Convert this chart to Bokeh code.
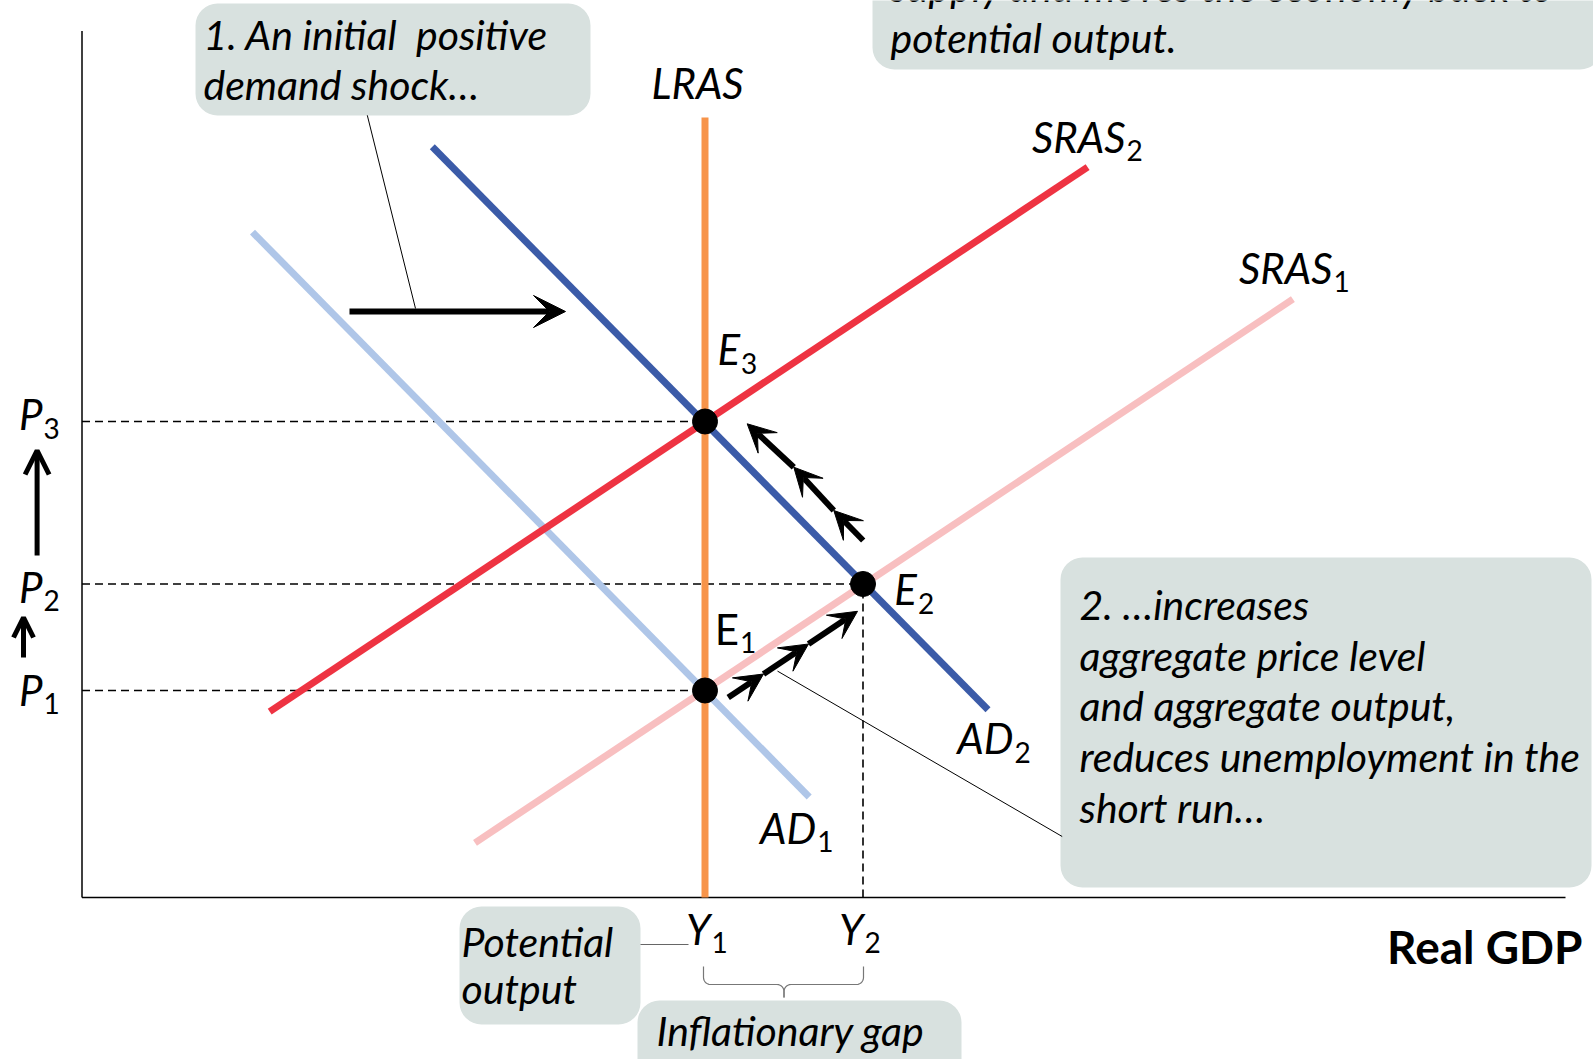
from bokeh.plotting import figure
from bokeh.models import Range1d, ColumnDataSource, Arrow, VeeHead, OpenHead
from bokeh.core.properties import value
from bokeh.embed import file_html
from bokeh.resources import INLINE
import numpy as np

# ---------------- data (chart units, origin at the axes corner) ----------------
Y1, Y2 = 623.0, 781.0            # potential output, short-run output
P1, P2, P3 = 207.0, 313.5, 476.0 # price levels

lras_x = [Y1, Y1]
lras_y = [0.0, 780.0]
ad1_x = [170.5, 727.2]
ad1_y = [665.4, 100.5]
ad2_x = [350.3, 906.0]
ad2_y = [750.7, 187.8]
sras1_x = [393.0, 1210.9]
sras1_y = [54.7, 598.3]
sras2_x = [187.7, 1005.6]
sras2_y = [185.8, 730.4]

eq_x = [Y1, Y2, Y1]
eq_y = [P1, P2, P3]

x_axis_end = 1483.5
y_axis_end = 866.5

box1_lines = ["1. An initial\u00a0 positive", "demand shock\u2026"]
box2_lines = ["2. \u2026increases", "aggregate price level", "and aggregate output,",
              "reduces unemployment in the", "short run\u2026"]
box3_lines = ["supply and moves the economy back to", "potential output."]
pot_lines = ["Potential", "output"]
gap_lines = ["Inflationary gap"]

# ---------------- styles ----------------
FONT = value("Lato")
BOX_FILL = "#D8E1DF"
C_LRAS = "#F7944A"
C_AD1 = "#AFC6E8"
C_AD2 = "#3B5BA8"
C_SRAS1 = "#F8BFC0"
C_SRAS2 = "#EE3342"
CURVE_W = 7
TXT = "41px"
LBL = "42px"
SUB = "28px"
DY = 14.0   # text baseline correction

p = figure(width=1593, height=1059, x_range=Range1d(-81.5, 1511.5), y_range=Range1d(-162, 897),
           output_backend="svg", toolbar_location=None, min_border=0,
           x_axis_location=None, y_axis_location=None)
p.grid.visible = False
p.outline_line_color = None
p.background_fill_color = "white"
p.border_fill_color = "white"

# ---------------- callout boxes ----------------
boxes = dict(left=[113.5, 790.5, 978.5, 377.5, 555.5],
             right=[508.5, 1520.0, 1509.5, 558.5, 879.5],
             bottom=[782.0, 828.0, 10.0, -127.0, -190.0],
             top=[894.0, 940.0, 340.0, -9.0, -103.0])
p.quad(source=ColumnDataSource(boxes), left="left", right="right", bottom="bottom", top="top",
       fill_color=BOX_FILL, line_color=None, border_radius=22)

def block(lines, x, y0, step):
    ys = [y0 + DY - i * step for i in range(len(lines))]
    p.text(x=[x] * len(lines), y=ys, text=lines, text_font=FONT, text_font_style="italic",
           text_font_size=TXT, text_color="black", text_baseline="alphabetic", text_align="left")

block(box1_lines, 121.5, 849.0, 49.5)
block(box2_lines, 997.5, 279.3, 50.8)
block(box3_lines, 808.5, 897.0, 51.0)
block(pot_lines, 379.5, -58.0, 47.0)
block(gap_lines, 574.5, -147.0, 50.0)

# ---------------- axes ----------------
p.segment(x0=[0, 0], y0=[0, 0], x1=[0, x_axis_end], y1=[y_axis_end, 0], line_color="black", line_width=1.5)

# ---------------- dashed guides ----------------
p.segment(x0=[0, 0, 0, Y2], y0=[P1, P2, P3, 0], x1=[Y1, Y2, Y1, Y2], y1=[P1, P2, P3, P2],
          line_color="black", line_width=1.6, line_dash="8 5")

# ---------------- curves ----------------
p.line(sras1_x, sras1_y, line_color=C_SRAS1, line_width=CURVE_W)
p.line(ad1_x, ad1_y, line_color=C_AD1, line_width=CURVE_W)
p.line(sras2_x, sras2_y, line_color=C_SRAS2, line_width=CURVE_W)
p.line(ad2_x, ad2_y, line_color=C_AD2, line_width=CURVE_W)
p.line(lras_x, lras_y, line_color=C_LRAS, line_width=CURVE_W)

# ---------------- leader lines ----------------
p.segment(x0=[285.3, 980.2], y0=[782.2, 61.0], x1=[333.5, 695.5], y1=[589.0, 226.4],
          line_color="black", line_width=1)
p.segment(x0=[558.5], y0=[-47.0], x1=[606.5], y1=[-47.0], line_color="#666666", line_width=1.2)

# brace under Y1..Y2
def brace_half(xa, xb, ytop, ymid, ytip, r, sgn):
    pts = [(xa, ytop), (xa, ymid + r)]
    th = np.linspace(np.pi, 1.5 * np.pi, 8) if sgn > 0 else np.linspace(0, -0.5 * np.pi, 8)
    cx = xa + sgn * r
    pts += [(cx + r * np.cos(t), ymid + r + r * np.sin(t)) for t in th]
    pts += [(xb - sgn * r, ymid)]
    th2 = np.linspace(0.5 * np.pi, 0, 8) if sgn > 0 else np.linspace(0.5 * np.pi, np.pi, 8)
    cx2 = xb - sgn * r
    pts += [(cx2 + r * np.cos(t), ymid - r + r * np.sin(t)) for t in th2]
    pts += [(xb, ytip)]
    return [q[0] for q in pts], [q[1] for q in pts]

xm = (Y1 + Y2) / 2
bl = brace_half(Y1 - 1.5, xm, -69.0, -87.0, -100.0, 7, 1)
br = brace_half(Y2 + 0.5, xm, -69.0, -87.0, -100.0, 7, -1)
p.multi_line(xs=[bl[0], br[0]], ys=[bl[1], br[1]], line_color="#777777", line_width=1.2)

# ---------------- equilibrium points ----------------
p.scatter(eq_x, eq_y, size=25, fill_color="black", line_color="black")

# ---------------- arrows ----------------
def arrows(xs, ys, head, w):
    src = ColumnDataSource(dict(x0=xs[:-1], y0=ys[:-1], x1=xs[1:], y1=ys[1:]))
    p.add_layout(Arrow(end=head, source=src, x_start="x0", y_start="y0", x_end="x1", y_end="y1",
                       line_width=w, line_color="black"))

arrows([267.5, 483.5], [586.0, 586.0], VeeHead(size=32, fill_color="black", line_color="black"), 6)
arrows([646.2, 681.5, 726.5, 775.5], [200.0, 223.5, 253.5, 286.2],
       VeeHead(size=28, fill_color="black", line_color="black"), 6)
arrows([781.2, 751.8, 711.8, 665.2], [357.0, 387.0, 430.3, 473.7],
       VeeHead(size=28, fill_color="black", line_color="black"), 6)
arrows([-44.9, -44.9], [342.0, 447.0], OpenHead(size=24, line_width=5, line_color="black"), 5)
arrows([-58.5, -58.5], [240.0, 280.0], OpenHead(size=20, line_width=5, line_color="black"), 5)

# ---------------- labels ----------------
# (main, subscript, x where subscript starts, baseline, italic?)
labels = [
    ("SRAS", "2", 1043.5, 746.6, True),
    ("SRAS", "1", 1250.5, 615.6, True),
    ("AD", "2", 931.5, 145.2, True),
    ("AD", "1", 734.3, 56.0, True),
    ("E", "3", 658.1, 534.3, True),
    ("E", "2", 834.9, 294.5, True),
    ("E", "1", 657.1, 255.0, False),
    ("P", "3", -39.5, 469.3, True),
    ("P", "2", -39.5, 297.0, True),
    ("P", "1", -39.5, 194.0, True),
    ("Y", "1", 628.5, -45.0, True),
    ("Y", "2", 781.5, -45.0, True),
]
for main, sub, xs, yb, it in labels:
    p.text(x=[xs], y=[yb + DY], text=[main], text_font=FONT, text_font_style="italic" if it else "normal",
           text_font_size=LBL, text_align="right", text_baseline="alphabetic", text_color="black")
    p.text(x=[xs + 1], y=[yb + DY - 14], text=[sub], text_font=FONT, text_font_size=SUB,
           text_align="left", text_baseline="alphabetic", text_color="black")

p.text(x=[615.5], y=[800.5 + DY], text=["LRAS"], text_font=FONT, text_font_style="italic",
       text_font_size=LBL, text_align="center", text_baseline="alphabetic", text_color="black")
p.text(x=[1500.5], y=[-63.0 + DY], text=["Real GDP"], text_font=FONT, text_font_style="bold",
       text_font_size="46px", text_align="right", text_baseline="alphabetic", text_color="black")

open("out.html", "w").write(file_html(p, INLINE))
